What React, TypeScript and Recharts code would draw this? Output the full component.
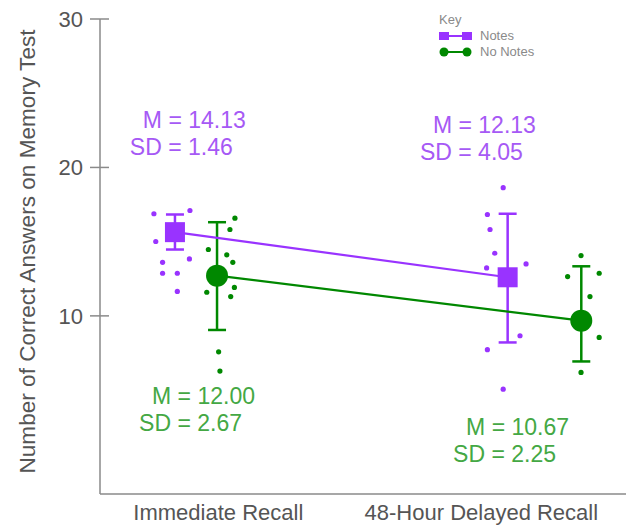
import React from 'react';
import { ComposedChart, Scatter, ErrorBar, XAxis, YAxis } from 'recharts';

// group labels on the x axis
const categories = ['Immediate Recall', '48-Hour Delayed Recall'];
const categoryX = [1, 2];

const seriesNames = ['Notes', 'No Notes'];
const seriesColors = ['#9933ff', '#008800'];
const textColors = ['#a659f5', '#44a844'];

// group means, where they sit on the x axis, and [below, above] error bar lengths
const notesMeanX = [0.835, 2.1];
const notesMeans = [15.64, 12.6];
const notesErr = [[1.17, 1.19], [4.39, 4.28]];

const noNotesMeanX = [0.995, 2.38];
const noNotesMeans = [12.71, 9.68];
const noNotesErr = [[3.66, 3.6], [2.75, 3.66]];

// individual scores
const notesImmediateX = [0.755, 0.892, 0.762, 0.89, 0.788, 0.788, 0.844, 0.844];
const notesImmediateY = [16.88, 17.1, 15.01, 13.84, 13.61, 12.87, 12.87, 11.65];
const notesDelayedX = [2.083, 2.023, 2.033, 2.051, 2.17, 2.02, 2.147, 2.023, 2.083];
const notesDelayedY = [18.64, 16.83, 15.82, 14.22, 13.5, 13.23, 8.66, 7.72, 5.06];

const noNotesImmediateX = [1.063, 1.044, 0.962, 1.032, 1.055, 1.061, 0.956, 1.047, 1.001, 1.006];
const noNotesImmediateY = [16.58, 15.82, 14.47, 14.11, 13.61, 11.92, 11.59, 11.3, 7.58, 6.28];
const noNotesDelayedX = [2.379, 2.328, 2.448, 2.413, 2.448, 2.379];
const noNotesDelayedY = [14.06, 12.65, 12.87, 11.3, 8.55, 6.19];

// M / SD notes, anchored in data units
const noteLines = [
  ['M = 14.13', 'SD = 1.46'],
  ['M = 12.13', 'SD = 4.05'],
  ['M = 12.00', 'SD = 2.67'],
  ['M = 10.67', 'SD = 2.25'],
];
const noteX = [0.713, 1.816, 0.748, 1.942];
const noteY = [22.64, 22.3, 4.07, 1.98];
const noteSeries = [0, 0, 1, 1];

const yTicks = [10, 20, 30];

const FONT = '"Liberation Sans", Arial, sans-serif';
const AXIS = '#8a8a8a';

const zip = (xs: number[], ys: number[]) => xs.map((x, i) => ({ x, y: ys[i] }));

const notesMeanData = notesMeanX.map((x, i) => ({ x, y: notesMeans[i], err: notesErr[i] }));
const noNotesMeanData = noNotesMeanX.map((x, i) => ({ x, y: noNotesMeans[i], err: noNotesErr[i] }));
const notesPoints = [...zip(notesImmediateX, notesImmediateY), ...zip(notesDelayedX, notesDelayedY)];
const noNotesPoints = [...zip(noNotesImmediateX, noNotesImmediateY), ...zip(noNotesDelayedX, noNotesDelayedY)];
const noteData = noteX.map((x, i) => ({ x, y: noteY[i], lines: noteLines[i], s: noteSeries[i] }));

const Dot = (color: string) => (props: any) => <circle cx={props.cx} cy={props.cy} r={2.6} fill={color} />;

const SquareMark = (props: any) => (
  <rect x={props.cx - 10} y={props.cy - 10} width={20} height={20} fill={seriesColors[0]} />
);
const CircleMark = (props: any) => <circle cx={props.cx} cy={props.cy} r={11} fill={seriesColors[1]} />;

const NoteText = (props: any) => {
  const { cx, cy, payload } = props;
  const color = textColors[payload.s];
  return (
    <g fontSize={23} fill={color} fontFamily={FONT}>
      <text x={cx} y={cy}>{payload.lines[0]}</text>
      <text x={cx - 13} y={cy + 27}>{payload.lines[1]}</text>
    </g>
  );
};

const YTick = (props: any) => {
  const { x, y, payload } = props;
  return (
    <g>
      <line x1={x + 7} x2={x + 26} y1={y} y2={y} stroke={AXIS} strokeWidth={1.5} />
      <text x={x} y={y} dy="0.35em" textAnchor="end" fontSize={22} fill="#555" fontFamily={FONT}>
        {payload.value}
      </text>
    </g>
  );
};

const YLabel = (props: any) => {
  const { viewBox } = props;
  const cx = viewBox.x + 27;
  const cy = viewBox.y + viewBox.height / 2 - 5;
  return (
    <text
      x={cx}
      y={cy}
      transform={`rotate(-90 ${cx} ${cy})`}
      textAnchor="middle"
      dominantBaseline="central"
      fontSize={22.6}
      fill="#555"
      fontFamily={FONT}
    >
      Number of Correct Answers on Memory Test
    </text>
  );
};

const KeyLegend = () => (
  <div
    style={{
      position: 'absolute',
      top: 12,
      left: 439,
      fontFamily: FONT,
      fontSize: 13,
      lineHeight: '16px',
      color: '#8a8a8a',
    }}
  >
    <div>Key</div>
    {seriesNames.map((name, i) => (
      <div key={name} style={{ display: 'flex', alignItems: 'center', height: 16 }}>
        <svg width={41} height={14}>
          <line x1={5} x2={28} y1={7} y2={7} stroke={seriesColors[i]} strokeWidth={2} />
          {i === 0 ? (
            <>
              <rect x={0} y={3} width={10} height={8} fill={seriesColors[i]} />
              <rect x={23} y={3} width={10} height={8} fill={seriesColors[i]} />
            </>
          ) : (
            <>
              <circle cx={5} cy={7} r={4.5} fill={seriesColors[i]} />
              <circle cx={28} cy={7} r={4.5} fill={seriesColors[i]} />
            </>
          )}
        </svg>
        <span>{name}</span>
      </div>
    ))}
  </div>
);

export default function App() {
  return (
    <div style={{ position: 'absolute', left: 0, top: 0, width: 626, height: 529, fontFamily: FONT, background: '#fff' }}>
      <ComposedChart width={626} height={529} margin={{ top: 19, right: 0, bottom: 0, left: 0 }}>
        <XAxis
          type="number"
          dataKey="x"
          domain={[0.55, 2.55]}
          ticks={categoryX}
          tickFormatter={(v: number) => categories[categoryX.indexOf(v)] ?? ''}
          tickLine={false}
          tickSize={0}
          tickMargin={10}
          height={35}
          stroke={AXIS}
          strokeWidth={1.5}
          tick={{ fontSize: 22, fill: '#555', fontFamily: FONT }}
        />
        <YAxis
          type="number"
          dataKey="y"
          domain={[-2, 30]}
          ticks={yTicks}
          width={100}
          tickLine={false}
          tickSize={10}
          tickMargin={7}
          stroke={AXIS}
          strokeWidth={1.5}
          tick={<YTick />}
          label={{ content: <YLabel /> }}
        />
        <Scatter data={notesPoints} shape={Dot(seriesColors[0])} isAnimationActive={false} />
        <Scatter data={noNotesPoints} shape={Dot(seriesColors[1])} isAnimationActive={false} />
        <Scatter
          data={noNotesMeanData}
          shape={CircleMark}
          line={{ stroke: seriesColors[1], strokeWidth: 2.2 }}
          isAnimationActive={false}
        >
          <ErrorBar dataKey="err" direction="y" width={9} stroke={seriesColors[1]} strokeWidth={2.5} />
        </Scatter>
        <Scatter
          data={notesMeanData}
          shape={SquareMark}
          line={{ stroke: seriesColors[0], strokeWidth: 2.2 }}
          isAnimationActive={false}
        >
          <ErrorBar dataKey="err" direction="y" width={9} stroke={seriesColors[0]} strokeWidth={2.5} />
        </Scatter>
        <Scatter data={noteData} shape={NoteText} isAnimationActive={false} />
      </ComposedChart>
      <KeyLegend />
    </div>
  );
}
